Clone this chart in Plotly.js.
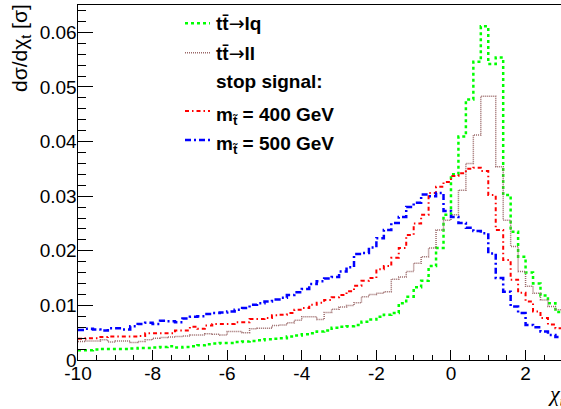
<!DOCTYPE html>
<html>
<head>
<meta charset="utf-8">
<script src="https://cdn.plot.ly/plotly-3.0.1.min.js"></script>
<style>html,body{margin:0;padding:0;background:#fff;}#chart{width:561px;height:409px;}</style>
</head>
<body>
<div id="chart"></div>
<script>
// Histogram binning: 65 bins of width 0.2 from -10 to 3
const binLow = -10;
const binWidth = 0.2;
const nBins = 65;

// tt -> lq (green)
const ttLq = [
0.0018,0.0018,0.0019,0.0020,0.0020,0.0020,0.0020,0.0021,0.0022,0.0022,
0.0023,0.0024,0.0025,0.0023,0.0024,0.0025,0.0027,0.0029,0.0030,0.0031,
0.0031,0.0033,0.0034,0.0035,0.0036,0.0038,0.0039,0.0040,0.0043,0.0045,
0.0047,0.0049,0.0052,0.0054,0.0059,0.0061,0.0062,0.0064,0.0070,0.0074,
0.0079,0.0083,0.0086,0.0104,0.0116,0.0133,0.0145,0.0172,0.0205,0.0266,
0.0340,0.0409,0.0477,0.0546,0.0611,0.0542,0.0554,0.0302,0.0235,0.0189,
0.0160,0.0140,0.0118,0.0104,0.0088];

// tt -> ll (brown)
const ttLl = [
0.0034,0.0035,0.0035,0.0037,0.0033,0.0035,0.0035,0.0032,0.0034,0.0037,
0.0040,0.0041,0.0042,0.0043,0.0044,0.0046,0.0046,0.0048,0.0047,0.0046,
0.0052,0.0052,0.0050,0.0057,0.0058,0.0058,0.0063,0.0064,0.0068,0.0073,
0.0079,0.0079,0.0074,0.0087,0.0093,0.0097,0.0100,0.0105,0.0116,0.0120,
0.0122,0.0125,0.0148,0.0152,0.0162,0.0177,0.0189,0.0205,0.0238,0.0256,
0.0266,0.0311,0.0360,0.0412,0.0483,0.0483,0.0354,0.0256,0.0208,0.0162,
0.0135,0.0122,0.0110,0.0098,0.0092];

// stop 400 GeV (red)
const stop400 = [
0.0039,0.0040,0.0040,0.0042,0.0043,0.0043,0.0043,0.0043,0.0044,0.0049,
0.0049,0.0049,0.0049,0.0054,0.0054,0.0061,0.0057,0.0063,0.0066,0.0066,
0.0066,0.0069,0.0069,0.0075,0.0075,0.0077,0.0082,0.0083,0.0086,0.0092,
0.0095,0.0101,0.0105,0.0110,0.0115,0.0119,0.0126,0.0136,0.0145,0.0150,
0.0166,0.0172,0.0187,0.0205,0.0229,0.0250,0.0266,0.0306,0.0317,0.0326,
0.0337,0.0342,0.0350,0.0352,0.0346,0.0302,0.0238,0.0183,0.0147,0.0123,
0.0107,0.0089,0.0077,0.0065,0.0058];

// stop 500 GeV (blue)
const stop500 = [
0.0055,0.0057,0.0056,0.0054,0.0058,0.0058,0.0056,0.0062,0.0066,0.0068,
0.0066,0.0072,0.0071,0.0069,0.0076,0.0079,0.0080,0.0084,0.0086,0.0087,
0.0089,0.0092,0.0095,0.0101,0.0104,0.0107,0.0111,0.0114,0.0119,0.0124,
0.0130,0.0139,0.0144,0.0149,0.0152,0.0162,0.0170,0.0194,0.0196,0.0206,
0.0223,0.0238,0.0251,0.0262,0.0280,0.0288,0.0303,0.0300,0.0306,0.0273,
0.0262,0.0251,0.0242,0.0236,0.0232,0.0195,0.0150,0.0125,0.0098,0.0086,
0.0064,0.0060,0.0052,0.0046,0.0042];

const xTickVals = [-10,-8,-6,-4,-2,0,2];
const xTickText = ['-10','-8','-6','-4','-2','0','2'];
const yTickVals = [0,0.01,0.02,0.03,0.04,0.05,0.06];
const yTickText = ['0','0.01','0.02','0.03','0.04','0.05','0.06'];

const arrow = '<span style="font-family:DejaVu Sans;font-weight:normal">\u2192</span>';
const legendLabels = ['tt\u0304' + arrow + 'lq','tt\u0304' + arrow + 'll','stop signal:','m<sub>t\u0303</sub> = 400 GeV','m<sub>t\u0303</sub> = 500 GeV'];

const edges = Array.from({length: nBins + 1}, (_, i) => binLow + i * binWidth);
function stepY(vals){ return vals.concat([vals[vals.length-1]]); }

const styles = [
  {data: ttLq, color:'#00ff00', dash:'3px,3px', width:2.5},
  {data: ttLl, color:'#9a6868', dash:'1px,1px', width:1.5},
  {data: stop400, color:'#ff0000', dash:'4px,3px,1.5px,3px', width:2},
  {data: stop500, color:'#0000ff', dash:'6px,3px,2px,3px', width:2.5}
];

const traces = styles.map(s => ({
  type:'scatter', mode:'lines', x: edges, y: stepY(s.data),
  line:{shape:'hv', color:s.color, dash:s.dash, width:s.width},
  showlegend:false, hoverinfo:'skip'
}));

// Layout helpers (pixel -> paper)
const L = 78, W = 483, T = 5, H = 355;
const px = v => (v - L) / W;
const py = v => 1 - (v - T) / H;

const font = {family:'Liberation Sans, Arial, sans-serif', size:19, color:'#000'};
const titleFont = {family:'Liberation Sans, Arial, sans-serif', size:21, color:'#000'};
const legFont = {family:'Liberation Sans, Arial, sans-serif', size:19, color:'#000', weight:'bold'};

const rowsY = [23.3, 52.7, 81.7, 111, 140];
const sampleStyle = [styles[0], styles[1], null, styles[2], styles[3]];

const shapes = [];
const annotations = [];
legendLabels.forEach((lab, i) => {
  const st = sampleStyle[i];
  if (st) {
    shapes.push({type:'line', xref:'paper', yref:'paper', x0:px(185), x1:px(210), y0:py(rowsY[i]), y1:py(rowsY[i]),
      line:{color:st.color, dash:st.dash, width:st.width}});
  }
  const isM = lab.indexOf('<sub>') >= 0;
  annotations.push({xref:'paper', yref:'paper', x:px(214), y:py(rowsY[i] + (isM ? 5 : 0)), xanchor:'left', yanchor:'middle',
    text:'<b>' + lab + '</b>', showarrow:false, font:legFont});
});

annotations.push({xref:'paper', yref:'paper', x:px(21), y:1, yshift:3, xanchor:'center', yanchor:'top',
  text:'d\u03c3/d\u03c7<sub>t</sub> [\u03c3]', textangle:-90, showarrow:false, font:titleFont});
annotations.push({xref:'paper', yref:'paper', x:px(546), y:py(395), xanchor:'left', yanchor:'middle',
  text:'\u03c7<sub>t</sub>', showarrow:false, font:{family:'Liberation Serif, serif', size:22, color:'#000', style:'italic'}});

const layout = {
  width:561, height:409,
  margin:{l:L, r:0, t:T, b:409 - T - H},
  paper_bgcolor:'#fff', plot_bgcolor:'#fff',
  showlegend:false,
  xaxis:{range:[-10, 2.95], showgrid:false, zeroline:false, showline:true, linecolor:'#000', linewidth:1, mirror:true,
    tickmode:'array', tickvals:xTickVals, ticktext:xTickText, ticks:'inside', ticklen:10, tickcolor:'#000', tickwidth:1,
    minor:{tickmode:'linear', tick0:-10, dtick:0.5, ticks:'inside', ticklen:5, tickcolor:'#000', tickwidth:1, showgrid:false},
    tickfont:font, ticklabelstandoff:-4},
  yaxis:{range:[0, 0.065], showgrid:false, zeroline:false, showline:true, linecolor:'#000', linewidth:1.5,
    tickmode:'array', tickvals:yTickVals, ticktext:yTickText, ticks:'inside', ticklen:15, tickcolor:'#000', tickwidth:1,
    minor:{tickmode:'linear', tick0:0, dtick:0.002, ticks:'inside', ticklen:7.5, tickcolor:'#000', tickwidth:1, showgrid:false},
    tickfont:font, ticklabelstandoff:-4},
  shapes: shapes,
  annotations: annotations
};

Plotly.newPlot('chart', traces, layout, {staticPlot:true, displayModeBar:false});
</script>
</body>
</html>
